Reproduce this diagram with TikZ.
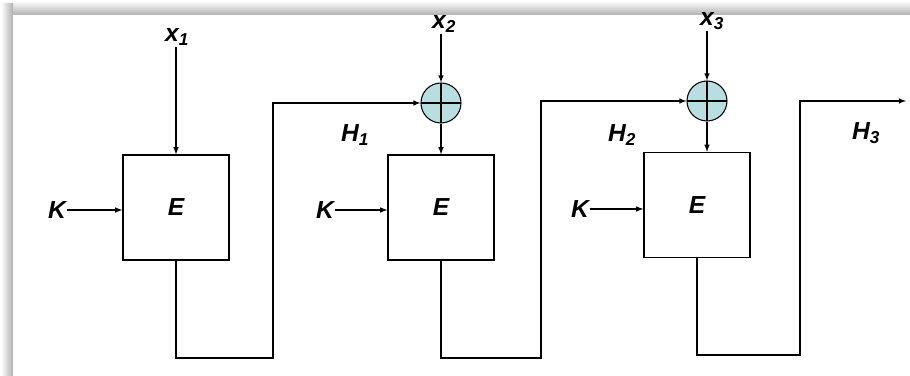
\documentclass[tikz,border=0pt]{standalone}
\usepackage{fontspec}
\setmainfont{Liberation Sans}
\usetikzlibrary{arrows, positioning, calc}

\definecolor{xorfill}{RGB}{184,222,226}

\tikzset{
  encbox/.style={draw, rectangle, line width=1.1pt, minimum width=3.18cm, minimum height=3.15cm, font=\fontsize{21}{24}\selectfont\bfseries\itshape},
  xorsym/.style={draw, circle, line width=0.9pt, fill=xorfill, minimum size=1.2cm, inner sep=0pt,
    path picture={\draw[line width=0.9pt] (path picture bounding box.north) -- (path picture bounding box.south)
      (path picture bounding box.west) -- (path picture bounding box.east);}},
  lbl/.style={font=\fontsize{21}{24}\selectfont\bfseries\itshape, inner sep=1pt},
  wire/.style={line width=1.1pt}
}

\begin{document}
\begin{tikzpicture}[x=0.03cm, y=-0.03cm, >=latex]
\useasboundingbox (0,0) rectangle (910,376);
% frame shadow
\fill[white] (0,0) rectangle (910,376);
\shade[top color=white, bottom color=gray!62] (4,1) rectangle (910,15);
\shade[left color=white, right color=gray!62] (1,4) rectangle (13,376);
\fill[white] (13,15) rectangle (910,376);

% E boxes
\node[encbox] (E1) at (176,207.5) {E};
\node[encbox] (E2) at (441,207.5) {E};
\node[encbox] (E3) at (697,205) {E};

% XOR
\node[xorsym] (c2) at (441,103) {};
\node[xorsym] (c3) at (707,101) {};

% inputs
\node[lbl] (x1) at (177,37) {x\textsubscript{1}};
\node[lbl] (x2) at (444,24) {x\textsubscript{2}};
\node[lbl] (x3) at (712,21) {x\textsubscript{3}};
\node[lbl] (K1) at (57,210) {K};
\node[lbl] (K2) at (325,210) {K};
\node[lbl] (K3) at (580,209) {K};

% chaining values
\node[lbl] (H1) at (355,135) {H\textsubscript{1}};
\node[lbl] (H2) at (622,135) {H\textsubscript{2}};
\node[lbl] (H3) at (866,133) {H\textsubscript{3}};

\coordinate (b1) at (273,358);
\coordinate (b2) at (541,358);
\coordinate (b3) at (800,355);
\coordinate (out) at (906,101);

% arrows
\draw[->, wire] (x1.south -| E1.north) -- (E1.north);
\draw[->, wire] (x2.south -| c2.north) -- (c2.north);
\draw[->, wire] (x3.south -| c3.north) -- (c3.north);
\draw[->, wire] (c2.south) -- (c2.south |- E2.north);
\draw[->, wire] (c3.south) -- (c3.south |- E3.north);

\draw[->, wire] (K1.east) -- (K1.east -| E1.west);
\draw[->, wire] (K2.east) -- (K2.east -| E2.west);
\draw[->, wire] (K3.east) -- (K3.east -| E3.west);

\draw[->, wire] (E1.south) |- (b1) |- (c2.west);
\draw[->, wire] (E2.south) |- (b2) |- (c3.west);
\draw[->, wire] (E3.south) |- (b3) |- (out);

\end{tikzpicture}
\end{document}
